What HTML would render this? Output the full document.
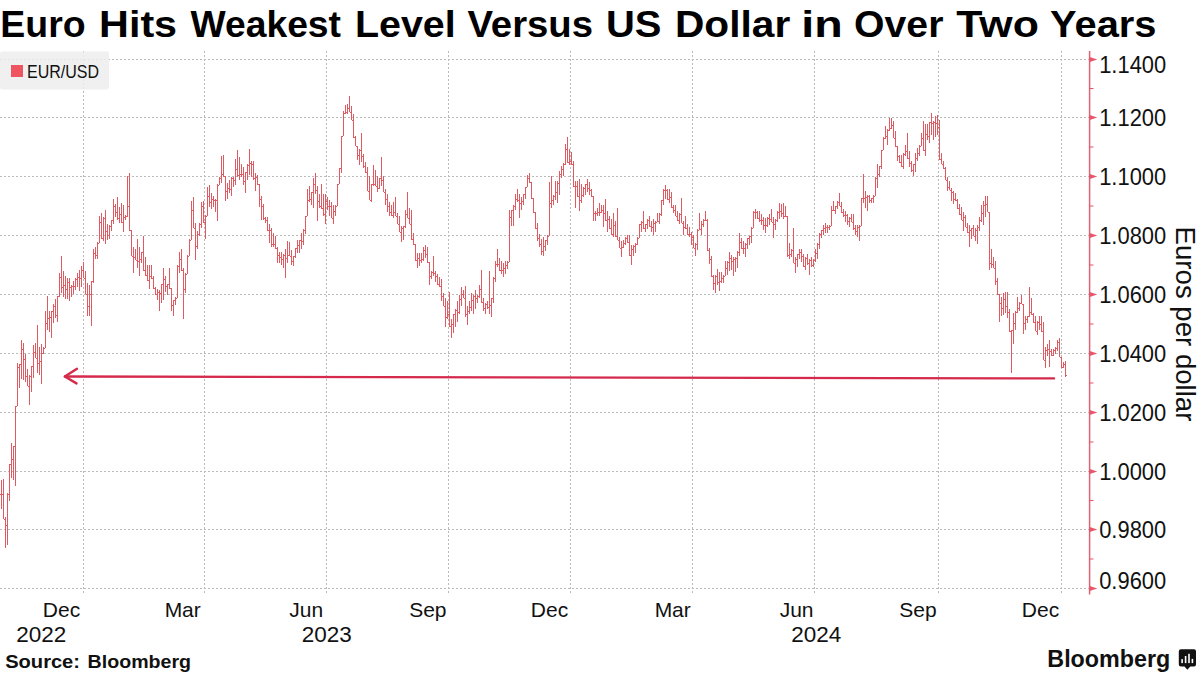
<!DOCTYPE html><html><head><meta charset="utf-8"><style>html,body{margin:0;padding:0;background:#fff;}svg{display:block;}text{font-family:"Liberation Sans",sans-serif;}</style></head><body>
<svg width="1200" height="675" viewBox="0 0 1200 675">
<rect width="1200" height="675" fill="#fff"/>
<g font-weight="bold" font-size="37" fill="#000">
<text x="0.3" y="37" textLength="85.3" lengthAdjust="spacingAndGlyphs">Euro</text>
<text x="99.1" y="37" textLength="78.0" lengthAdjust="spacingAndGlyphs">Hits</text>
<text x="190.5" y="37" textLength="150.5" lengthAdjust="spacingAndGlyphs">Weakest</text>
<text x="354.9" y="37" textLength="100.8" lengthAdjust="spacingAndGlyphs">Level</text>
<text x="467.4" y="37" textLength="125.7" lengthAdjust="spacingAndGlyphs">Versus</text>
<text x="606.0" y="37" textLength="55.5" lengthAdjust="spacingAndGlyphs">US</text>
<text x="675.0" y="37" textLength="115.2" lengthAdjust="spacingAndGlyphs">Dollar</text>
<text x="801.3" y="37" textLength="41.4" lengthAdjust="spacingAndGlyphs">in</text>
<text x="854.1" y="37" textLength="89.3" lengthAdjust="spacingAndGlyphs">Over</text>
<text x="956.3" y="37" textLength="82.6" lengthAdjust="spacingAndGlyphs">Two</text>
<text x="1050.1" y="37" textLength="106.4" lengthAdjust="spacingAndGlyphs">Years</text>
</g>
<g stroke="#bababa" stroke-width="1" stroke-dasharray="2 2" fill="none">
<line x1="0" y1="59.5" x2="1089" y2="59.5"/>
<line x1="0" y1="117.5" x2="1089" y2="117.5"/>
<line x1="0" y1="176.5" x2="1089" y2="176.5"/>
<line x1="0" y1="235.5" x2="1089" y2="235.5"/>
<line x1="0" y1="294.5" x2="1089" y2="294.5"/>
<line x1="0" y1="353.5" x2="1089" y2="353.5"/>
<line x1="0" y1="412.5" x2="1089" y2="412.5"/>
<line x1="0" y1="471.5" x2="1089" y2="471.5"/>
<line x1="0" y1="529.5" x2="1089" y2="529.5"/>
<line x1="0" y1="588.5" x2="1089" y2="588.5"/>
<line x1="83.5" y1="51" x2="83.5" y2="594"/>
<line x1="204.5" y1="51" x2="204.5" y2="594"/>
<line x1="326.5" y1="51" x2="326.5" y2="594"/>
<line x1="448.5" y1="51" x2="448.5" y2="594"/>
<line x1="570.5" y1="51" x2="570.5" y2="594"/>
<line x1="692.5" y1="51" x2="692.5" y2="594"/>
<line x1="814.5" y1="51" x2="814.5" y2="594"/>
<line x1="938.5" y1="51" x2="938.5" y2="594"/>
<line x1="1061.5" y1="51" x2="1061.5" y2="594"/>
</g>
<rect x="0" y="51.5" width="109" height="38" rx="2" fill="#ededed" fill-opacity="0.85"/>
<rect x="11" y="65" width="12" height="12" fill="#ef5461"/>
<text x="27" y="78" font-size="18.6" fill="#111" textLength="72" lengthAdjust="spacingAndGlyphs">EUR/USD</text>
<path d="M1.5 480V509M0 494.5h1M2 494.5h1M3.5 479V519M2 494.5h1M4 519.5h1M5.5 517V548M4 519.5h1M6 525.5h1M7.5 493V545M6 525.5h1M8 494.5h1M9.5 464V501M8 494.5h1M10 464.5h1M11.5 443V478M10 464.5h1M12 459.5h1M13.5 446V480M12 459.5h1M14 446.5h1M15.5 406V486M14 446.5h1M16 406.5h1M17.5 363V406M16 406.5h1M18 367.5h1M19.5 364V388M18 367.5h1M20 364.5h1M21.5 340V379M20 364.5h1M22 349.5h1M23.5 343V380M22 349.5h1M24 359.5h1M25.5 354V382M24 359.5h1M26 376.5h1M27.5 369V386M26 376.5h1M28 386.5h1M29.5 375V405M28 386.5h1M30 376.5h1M31.5 366V392M30 376.5h1M32 366.5h1M33.5 345V378M32 366.5h1M34 352.5h1M35.5 343V358M34 352.5h1M36 358.5h1M37.5 325V373M36 358.5h1M38 363.5h1M39.5 347V375M38 363.5h1M40 361.5h1M41.5 344V384M40 361.5h1M42 353.5h1M43.5 347V354M42 353.5h1M44 348.5h1M45.5 311V348M44 348.5h1M46 323.5h1M47.5 296V330M46 323.5h1M48 318.5h1M49.5 311V332M48 318.5h1M50 317.5h1M51.5 311V338M50 317.5h1M52 311.5h1M53.5 304V323M52 311.5h1M54 306.5h1M55.5 299V318M54 306.5h1M56 315.5h1M57.5 296V322M56 315.5h1M58 296.5h1M59.5 273V297M58 296.5h1M60 277.5h1M61.5 256V293M60 277.5h1M62 287.5h1M63.5 271V297M62 287.5h1M64 285.5h1M65.5 276V299M64 285.5h1M66 289.5h1M67.5 278V299M66 289.5h1M68 282.5h1M69.5 278V301M68 282.5h1M70 287.5h1M71.5 285V297M70 287.5h1M72 286.5h1M73.5 281V294M72 286.5h1M74 286.5h1M75.5 278V290M74 286.5h1M76 279.5h1M77.5 273V287M76 279.5h1M78 277.5h1M79.5 270V291M78 277.5h1M80 278.5h1M81.5 266V287M80 278.5h1M82 270.5h1M83.5 262V278M82 270.5h1M84 278.5h1M85.5 271V294M84 278.5h1M86 294.5h1M87.5 283V316M86 294.5h1M88 306.5h1M89.5 285V316M88 306.5h1M90 294.5h1M91.5 281V326M90 294.5h1M92 281.5h1M93.5 249V283M92 281.5h1M94 253.5h1M95.5 247V259M94 253.5h1M96 255.5h1M97.5 242V259M96 255.5h1M98 243.5h1M99.5 216V243M98 243.5h1M100 222.5h1M101.5 213V239M100 222.5h1M102 238.5h1M103.5 217V241M102 238.5h1M104 218.5h1M105.5 210V244M104 218.5h1M106 231.5h1M107.5 224V240M106 231.5h1M108 235.5h1M109.5 225V239M108 235.5h1M110 226.5h1M111.5 220V231M110 226.5h1M112 220.5h1M113.5 199V224M112 220.5h1M114 206.5h1M115.5 204V217M114 206.5h1M116 212.5h1M117.5 197V220M116 212.5h1M118 218.5h1M119.5 207V223M118 218.5h1M120 214.5h1M121.5 203V223M120 214.5h1M122 222.5h1M123.5 205V232M122 222.5h1M124 217.5h1M125.5 215V220M124 217.5h1M126 216.5h1M127.5 176V217M126 216.5h1M128 206.5h1M129.5 173V231M128 206.5h1M130 230.5h1M131.5 230V256M130 230.5h1M132 256.5h1M133.5 247V273M132 256.5h1M134 257.5h1M135.5 249V260M134 257.5h1M136 260.5h1M137.5 239V268M136 260.5h1M138 261.5h1M139.5 247V276M138 261.5h1M140 259.5h1M141.5 252V263M140 259.5h1M142 252.5h1M143.5 236V271M142 252.5h1M144 270.5h1M145.5 257V276M144 270.5h1M146 275.5h1M147.5 265V281M146 275.5h1M148 280.5h1M149.5 265V289M148 280.5h1M150 276.5h1M151.5 265V279M150 276.5h1M152 278.5h1M153.5 276V289M152 278.5h1M154 288.5h1M155.5 287V295M154 288.5h1M156 294.5h1M157.5 289V300M156 294.5h1M158 292.5h1M159.5 290V311M158 292.5h1M160 293.5h1M161.5 284V303M160 293.5h1M162 284.5h1M163.5 268V300M162 284.5h1M164 279.5h1M165.5 276V292M164 279.5h1M166 286.5h1M167.5 284V295M166 286.5h1M168 284.5h1M169.5 268V289M168 284.5h1M170 288.5h1M171.5 288V311M170 288.5h1M172 305.5h1M173.5 300V316M172 305.5h1M174 300.5h1M175.5 297V305M174 300.5h1M176 298.5h1M177.5 265V298M176 298.5h1M178 266.5h1M179.5 252V273M178 266.5h1M180 259.5h1M181.5 249V271M180 259.5h1M182 270.5h1M183.5 268V319M182 270.5h1M184 289.5h1M185.5 273V293M184 289.5h1M186 274.5h1M187.5 255V274M186 274.5h1M188 256.5h1M189.5 239V256M188 256.5h1M190 240.5h1M191.5 201V240M190 240.5h1M192 210.5h1M193.5 197V228M192 210.5h1M194 228.5h1M195.5 223V260M194 228.5h1M196 246.5h1M197.5 231V249M196 246.5h1M198 234.5h1M199.5 223V236M198 234.5h1M200 224.5h1M201.5 202V228M200 224.5h1M202 206.5h1M203.5 201V223M202 206.5h1M204 222.5h1M205.5 215V239M204 222.5h1M206 216.5h1M207.5 187V216M206 216.5h1M208 196.5h1M209.5 185V207M208 196.5h1M210 202.5h1M211.5 193V209M210 202.5h1M212 199.5h1M213.5 196V207M212 199.5h1M214 200.5h1M215.5 199V212M214 200.5h1M216 200.5h1M217.5 184V221M216 200.5h1M218 185.5h1M219.5 177V185M218 185.5h1M220 178.5h1M221.5 156V183M220 178.5h1M222 174.5h1M223.5 155V177M222 174.5h1M224 176.5h1M225.5 176V201M224 176.5h1M226 191.5h1M227.5 183V199M226 191.5h1M228 188.5h1M229.5 180V193M228 188.5h1M230 189.5h1M231.5 177V196M230 189.5h1M232 178.5h1M233.5 177V187M232 178.5h1M234 180.5h1M235.5 159V185M234 180.5h1M236 169.5h1M237.5 150V177M236 169.5h1M238 175.5h1M239.5 157V180M238 175.5h1M240 174.5h1M241.5 164V177M240 174.5h1M242 174.5h1M243.5 167V185M242 174.5h1M244 181.5h1M245.5 172V193M244 181.5h1M246 172.5h1M247.5 164V180M246 172.5h1M248 165.5h1M249.5 149V175M248 165.5h1M250 163.5h1M251.5 161V177M250 163.5h1M252 164.5h1M253.5 161V180M252 164.5h1M254 178.5h1M255.5 173V191M254 178.5h1M256 177.5h1M257.5 175V185M256 177.5h1M258 184.5h1M259.5 184V207M258 184.5h1M260 199.5h1M261.5 196V220M260 199.5h1M262 206.5h1M263.5 204V220M262 206.5h1M264 218.5h1M265.5 217V223M264 218.5h1M266 220.5h1M267.5 217V231M266 220.5h1M268 230.5h1M269.5 224V243M268 230.5h1M270 230.5h1M271.5 228V247M270 230.5h1M272 244.5h1M273.5 233V247M272 244.5h1M274 244.5h1M275.5 236V249M274 244.5h1M276 248.5h1M277.5 247V263M276 248.5h1M278 255.5h1M279.5 252V263M278 255.5h1M280 257.5h1M281.5 252V265M280 257.5h1M282 259.5h1M283.5 254V268M282 259.5h1M284 255.5h1M285.5 249V278M284 255.5h1M286 258.5h1M287.5 241V263M286 258.5h1M288 255.5h1M289.5 242V256M288 255.5h1M290 256.5h1M291.5 250V265M290 256.5h1M292 261.5h1M293.5 256V266M292 261.5h1M294 256.5h1M295.5 248V258M294 256.5h1M296 248.5h1M297.5 240V253M296 248.5h1M298 245.5h1M299.5 240V253M298 245.5h1M300 240.5h1M301.5 233V249M300 240.5h1M302 241.5h1M303.5 229V245M302 241.5h1M304 230.5h1M305.5 216V234M304 230.5h1M306 216.5h1M307.5 189V216M306 216.5h1M308 200.5h1M309.5 186V202M308 200.5h1M310 199.5h1M311.5 192V205M310 199.5h1M312 192.5h1M313.5 178V208M312 192.5h1M314 184.5h1M315.5 173V194M314 184.5h1M316 190.5h1M317.5 186V221M316 190.5h1M318 201.5h1M319.5 194V208M318 201.5h1M320 206.5h1M321.5 184V209M320 206.5h1M322 208.5h1M323.5 194V216M322 208.5h1M324 214.5h1M325.5 194V224M324 214.5h1M326 201.5h1M327.5 197V210M326 201.5h1M328 206.5h1M329.5 200V216M328 206.5h1M330 206.5h1M331.5 202V218M330 206.5h1M332 218.5h1M333.5 205V224M332 218.5h1M334 211.5h1M335.5 205V216M334 211.5h1M336 206.5h1M337.5 184V206M336 206.5h1M338 184.5h1M339.5 168V184M338 184.5h1M340 168.5h1M341.5 136V173M340 168.5h1M342 136.5h1M343.5 111V136M342 136.5h1M344 113.5h1M345.5 105V114M344 113.5h1M346 112.5h1M347.5 104V114M346 112.5h1M348 108.5h1M349.5 96V112M348 108.5h1M350 112.5h1M351.5 106V120M350 112.5h1M352 120.5h1M353.5 114V138M352 120.5h1M354 137.5h1M355.5 136V146M354 137.5h1M356 146.5h1M357.5 146V160M356 146.5h1M358 155.5h1M359.5 149V165M358 155.5h1M360 150.5h1M361.5 133V162M360 150.5h1M362 156.5h1M363.5 154V168M362 156.5h1M364 166.5h1M365.5 162V173M364 166.5h1M366 172.5h1M367.5 167V191M366 172.5h1M368 191.5h1M369.5 176V200M368 191.5h1M370 200.5h1M371.5 184V202M370 200.5h1M372 184.5h1M373.5 165V186M372 184.5h1M374 184.5h1M375.5 170V186M374 184.5h1M376 186.5h1M377.5 176V192M376 186.5h1M378 188.5h1M379.5 178V189M378 188.5h1M380 178.5h1M381.5 157V186M380 178.5h1M382 180.5h1M383.5 176V192M382 180.5h1M384 192.5h1M385.5 189V205M384 192.5h1M386 199.5h1M387.5 194V212M386 199.5h1M388 206.5h1M389.5 202V216M388 206.5h1M390 212.5h1M391.5 205V216M390 212.5h1M392 215.5h1M393.5 202V218M392 215.5h1M394 212.5h1M395.5 197V216M394 212.5h1M396 216.5h1M397.5 213V224M396 216.5h1M398 224.5h1M399.5 216V232M398 224.5h1M400 232.5h1M401.5 226V242M400 232.5h1M402 228.5h1M403.5 226V240M402 228.5h1M404 226.5h1M405.5 210V228M404 226.5h1M406 214.5h1M407.5 192V218M406 214.5h1M408 218.5h1M409.5 208V224M408 218.5h1M410 224.5h1M411.5 210V240M410 224.5h1M412 239.5h1M413.5 233V245M412 239.5h1M414 244.5h1M415.5 244V261M414 244.5h1M416 260.5h1M417.5 253V268M416 260.5h1M418 258.5h1M419.5 253V266M418 258.5h1M420 260.5h1M421.5 253V263M420 260.5h1M422 259.5h1M423.5 247V261M422 259.5h1M424 250.5h1M425.5 245V258M424 250.5h1M426 254.5h1M427.5 247V263M426 254.5h1M428 262.5h1M429.5 262V285M428 262.5h1M430 276.5h1M431.5 271V279M430 276.5h1M432 272.5h1M433.5 256V276M432 272.5h1M434 273.5h1M435.5 271V282M434 273.5h1M436 276.5h1M437.5 274V285M436 276.5h1M438 284.5h1M439.5 277V287M438 284.5h1M440 286.5h1M441.5 279V301M440 286.5h1M442 296.5h1M443.5 293V306M442 296.5h1M444 306.5h1M445.5 298V327M444 306.5h1M446 317.5h1M447.5 301V319M446 317.5h1M448 314.5h1M449.5 292V327M448 314.5h1M450 326.5h1M451.5 319V338M450 326.5h1M452 324.5h1M453.5 314V333M452 324.5h1M454 314.5h1M455.5 309V327M454 314.5h1M456 310.5h1M457.5 301V322M456 310.5h1M458 312.5h1M459.5 295V314M458 312.5h1M460 299.5h1M461.5 287V306M460 299.5h1M462 294.5h1M463.5 290V298M462 294.5h1M464 298.5h1M465.5 286V317M464 298.5h1M466 314.5h1M467.5 306V325M466 314.5h1M468 311.5h1M469.5 301V314M468 311.5h1M470 307.5h1M471.5 293V311M470 307.5h1M472 300.5h1M473.5 295V314M472 300.5h1M474 296.5h1M475.5 290V309M474 296.5h1M476 298.5h1M477.5 295V303M476 298.5h1M478 296.5h1M479.5 285V298M478 296.5h1M480 289.5h1M481.5 270V303M480 289.5h1M482 302.5h1M483.5 298V311M482 302.5h1M484 308.5h1M485.5 303V314M484 308.5h1M486 304.5h1M487.5 301V309M486 304.5h1M488 307.5h1M489.5 271V314M488 307.5h1M490 305.5h1M491.5 298V317M490 305.5h1M492 298.5h1M493.5 277V303M492 298.5h1M494 278.5h1M495.5 261V282M494 278.5h1M496 264.5h1M497.5 249V267M496 264.5h1M498 264.5h1M499.5 258V271M498 264.5h1M500 270.5h1M501.5 261V274M500 270.5h1M502 270.5h1M503.5 263V277M502 270.5h1M504 268.5h1M505.5 261V274M504 268.5h1M506 265.5h1M507.5 261V269M506 265.5h1M508 262.5h1M509.5 210V262M508 262.5h1M510 217.5h1M511.5 210V226M510 217.5h1M512 210.5h1M513.5 205V226M512 210.5h1M514 206.5h1M515.5 194V210M514 206.5h1M516 199.5h1M517.5 189V202M516 199.5h1M518 200.5h1M519.5 194V218M518 200.5h1M520 203.5h1M521.5 197V210M520 203.5h1M522 201.5h1M523.5 194V205M522 201.5h1M524 194.5h1M525.5 187V199M524 194.5h1M526 187.5h1M527.5 175V187M526 187.5h1M528 178.5h1M529.5 173V183M528 178.5h1M530 182.5h1M531.5 182V199M530 182.5h1M532 198.5h1M533.5 198V213M532 198.5h1M534 212.5h1M535.5 212V229M534 212.5h1M536 228.5h1M537.5 223V241M536 228.5h1M538 238.5h1M539.5 234V247M538 238.5h1M540 244.5h1M541.5 239V255M540 244.5h1M542 251.5h1M543.5 237V256M542 251.5h1M544 246.5h1M545.5 240V251M544 246.5h1M546 240.5h1M547.5 235V245M546 240.5h1M548 236.5h1M549.5 182V236M548 236.5h1M550 203.5h1M551.5 176V208M550 203.5h1M552 200.5h1M553.5 195V205M552 200.5h1M554 196.5h1M555.5 181V200M554 196.5h1M556 192.5h1M557.5 181V203M556 192.5h1M558 183.5h1M559.5 171V195M558 183.5h1M560 174.5h1M561.5 166V178M560 174.5h1M562 169.5h1M563.5 163V176M562 169.5h1M564 164.5h1M565.5 144V165M564 164.5h1M566 149.5h1M567.5 137V163M566 149.5h1M568 162.5h1M569.5 149V165M568 162.5h1M570 161.5h1M571.5 152V165M570 161.5h1M572 164.5h1M573.5 161V187M572 164.5h1M574 186.5h1M575.5 181V208M574 186.5h1M576 186.5h1M577.5 181V197M576 186.5h1M578 196.5h1M579.5 179V211M578 196.5h1M580 200.5h1M581.5 184V203M580 200.5h1M582 195.5h1M583.5 187V197M582 195.5h1M584 188.5h1M585.5 184V195M584 188.5h1M586 184.5h1M587.5 179V192M586 184.5h1M588 188.5h1M589.5 182V195M588 188.5h1M590 190.5h1M591.5 189V197M590 190.5h1M592 196.5h1M593.5 196V221M592 196.5h1M594 213.5h1M595.5 211V221M594 213.5h1M596 213.5h1M597.5 208V216M596 213.5h1M598 212.5h1M599.5 203V216M598 212.5h1M600 212.5h1M601.5 205V213M600 212.5h1M602 210.5h1M603.5 205V227M602 210.5h1M604 213.5h1M605.5 199V221M604 213.5h1M606 220.5h1M607.5 211V232M606 220.5h1M608 219.5h1M609.5 216V229M608 219.5h1M610 228.5h1M611.5 219V235M610 228.5h1M612 234.5h1M613.5 213V237M612 234.5h1M614 225.5h1M615.5 221V237M614 225.5h1M616 236.5h1M617.5 208V240M616 236.5h1M618 240.5h1M619.5 237V248M618 240.5h1M620 248.5h1M621.5 241V257M620 248.5h1M622 247.5h1M623.5 240V248M622 247.5h1M624 243.5h1M625.5 237V245M624 243.5h1M626 238.5h1M627.5 235V243M626 238.5h1M628 242.5h1M629.5 235V256M628 242.5h1M630 255.5h1M631.5 245V265M630 255.5h1M632 249.5h1M633.5 245V256M632 249.5h1M634 246.5h1M635.5 243V253M634 246.5h1M636 244.5h1M637.5 237V245M636 244.5h1M638 238.5h1M639.5 224V238M638 238.5h1M640 224.5h1M641.5 221V232M640 224.5h1M642 222.5h1M643.5 211V229M642 222.5h1M644 228.5h1M645.5 224V232M644 228.5h1M646 224.5h1M647.5 219V229M646 224.5h1M648 220.5h1M649.5 216V227M648 220.5h1M650 226.5h1M651.5 221V232M650 226.5h1M652 227.5h1M653.5 219V235M652 227.5h1M654 223.5h1M655.5 221V232M654 223.5h1M656 222.5h1M657.5 213V222M656 222.5h1M658 221.5h1M659.5 213V224M658 221.5h1M660 214.5h1M661.5 200V216M660 214.5h1M662 200.5h1M663.5 189V205M662 200.5h1M664 190.5h1M665.5 185V199M664 190.5h1M666 190.5h1M667.5 189V200M666 190.5h1M668 199.5h1M669.5 189V203M668 199.5h1M670 197.5h1M671.5 192V208M670 197.5h1M672 207.5h1M673.5 205V213M672 207.5h1M674 210.5h1M675.5 205V216M674 210.5h1M676 216.5h1M677.5 211V221M676 216.5h1M678 220.5h1M679.5 213V224M678 220.5h1M680 214.5h1M681.5 198V223M680 214.5h1M682 223.5h1M683.5 221V235M682 223.5h1M684 227.5h1M685.5 216V229M684 227.5h1M686 228.5h1M687.5 224V235M686 228.5h1M688 234.5h1M689.5 227V237M688 234.5h1M690 234.5h1M691.5 232V245M690 234.5h1M692 237.5h1M693.5 235V248M692 237.5h1M694 248.5h1M695.5 243V256M694 248.5h1M696 244.5h1M697.5 229V250M696 244.5h1M698 230.5h1M699.5 213V230M698 230.5h1M700 229.5h1M701.5 221V235M700 229.5h1M702 224.5h1M703.5 219V227M702 224.5h1M704 220.5h1M705.5 211V221M704 220.5h1M706 220.5h1M707.5 219V251M706 220.5h1M708 250.5h1M709.5 248V264M708 250.5h1M710 259.5h1M711.5 256V277M710 259.5h1M712 276.5h1M713.5 275V290M712 276.5h1M714 283.5h1M715.5 275V293M714 283.5h1M716 276.5h1M717.5 269V285M716 276.5h1M718 282.5h1M719.5 272V291M718 282.5h1M720 281.5h1M721.5 272V283M720 281.5h1M722 278.5h1M723.5 275V283M722 278.5h1M724 276.5h1M725.5 261V276M724 276.5h1M726 268.5h1M727.5 261V275M726 268.5h1M728 262.5h1M729.5 252V271M728 262.5h1M730 258.5h1M731.5 255V270M730 258.5h1M732 261.5h1M733.5 257V276M732 261.5h1M734 259.5h1M735.5 257V272M734 259.5h1M736 258.5h1M737.5 251V268M736 258.5h1M738 252.5h1M739.5 233V256M738 252.5h1M740 242.5h1M741.5 238V249M740 242.5h1M742 248.5h1M743.5 241V254M742 248.5h1M744 248.5h1M745.5 243V257M744 248.5h1M746 244.5h1M747.5 238V249M746 244.5h1M748 238.5h1M749.5 236V245M748 238.5h1M750 236.5h1M751.5 227V243M750 236.5h1M752 228.5h1M753.5 211V228M752 228.5h1M754 212.5h1M755.5 209V219M754 212.5h1M756 212.5h1M757.5 211V219M756 212.5h1M758 218.5h1M759.5 211V222M758 218.5h1M760 220.5h1M761.5 214V225M760 220.5h1M762 220.5h1M763.5 217V230M762 220.5h1M764 225.5h1M765.5 218V233M764 225.5h1M766 225.5h1M767.5 217V227M766 225.5h1M768 218.5h1M769.5 214V225M768 218.5h1M770 219.5h1M771.5 209V222M770 219.5h1M772 222.5h1M773.5 217V238M772 222.5h1M774 224.5h1M775.5 219V230M774 224.5h1M776 220.5h1M777.5 211V222M776 220.5h1M778 212.5h1M779.5 203V219M778 212.5h1M780 211.5h1M781.5 204V217M780 211.5h1M782 213.5h1M783.5 203V219M782 213.5h1M784 216.5h1M785.5 206V217M784 216.5h1M786 216.5h1M787.5 216V257M786 216.5h1M788 255.5h1M789.5 243V259M788 255.5h1M790 254.5h1M791.5 249V257M790 254.5h1M792 250.5h1M793.5 228V263M792 250.5h1M794 263.5h1M795.5 257V273M794 263.5h1M796 259.5h1M797.5 254V267M796 259.5h1M798 254.5h1M799.5 249V259M798 254.5h1M800 252.5h1M801.5 249V262M800 252.5h1M802 256.5h1M803.5 254V267M802 256.5h1M804 266.5h1M805.5 257V270M804 266.5h1M806 258.5h1M807.5 254V265M806 258.5h1M808 263.5h1M809.5 259V275M808 263.5h1M810 260.5h1M811.5 257V267M810 260.5h1M812 265.5h1M813.5 259V267M812 265.5h1M814 260.5h1M815.5 249V262M814 260.5h1M816 253.5h1M817.5 243V259M816 253.5h1M818 244.5h1M819.5 233V249M818 244.5h1M820 234.5h1M821.5 230V238M820 234.5h1M822 230.5h1M823.5 225V235M822 230.5h1M824 228.5h1M825.5 223V233M824 228.5h1M826 227.5h1M827.5 225V233M826 227.5h1M828 227.5h1M829.5 225V230M828 227.5h1M830 226.5h1M831.5 206V226M830 226.5h1M832 210.5h1M833.5 201V211M832 210.5h1M834 210.5h1M835.5 206V214M834 210.5h1M836 206.5h1M837.5 201V209M836 206.5h1M838 202.5h1M839.5 193V206M838 202.5h1M840 206.5h1M841.5 202V213M840 206.5h1M842 212.5h1M843.5 209V217M842 212.5h1M844 215.5h1M845.5 211V222M844 215.5h1M846 215.5h1M847.5 214V225M846 215.5h1M848 221.5h1M849.5 217V227M848 221.5h1M850 218.5h1M851.5 214V222M850 218.5h1M852 222.5h1M853.5 214V230M852 222.5h1M854 228.5h1M855.5 225V235M854 228.5h1M856 231.5h1M857.5 225V237M856 231.5h1M858 227.5h1M859.5 225V241M858 227.5h1M860 226.5h1M861.5 198V226M860 226.5h1M862 198.5h1M863.5 174V203M862 198.5h1M864 198.5h1M865.5 191V208M864 198.5h1M866 197.5h1M867.5 195V211M866 197.5h1M868 196.5h1M869.5 195V203M868 196.5h1M870 200.5h1M871.5 198V203M870 200.5h1M872 198.5h1M873.5 195V203M872 198.5h1M874 196.5h1M875.5 177V196M874 196.5h1M876 178.5h1M877.5 164V188M876 178.5h1M878 174.5h1M879.5 166V177M878 174.5h1M880 166.5h1M881.5 150V169M880 166.5h1M882 150.5h1M883.5 137V150M882 150.5h1M884 138.5h1M885.5 126V139M884 138.5h1M886 136.5h1M887.5 129V145M886 136.5h1M888 130.5h1M889.5 118V131M888 130.5h1M890 128.5h1M891.5 118V129M890 128.5h1M892 125.5h1M893.5 121V138M892 125.5h1M894 138.5h1M895.5 131V147M894 138.5h1M896 146.5h1M897.5 146V161M896 146.5h1M898 156.5h1M899.5 155V163M898 156.5h1M900 162.5h1M901.5 155V167M900 162.5h1M902 166.5h1M903.5 153V169M902 166.5h1M904 154.5h1M905.5 145V156M904 154.5h1M906 151.5h1M907.5 133V159M906 151.5h1M908 158.5h1M909.5 151V167M908 158.5h1M910 163.5h1M911.5 161V172M910 163.5h1M912 170.5h1M913.5 164V176M912 170.5h1M914 164.5h1M915.5 153V172M914 164.5h1M916 158.5h1M917.5 148V161M916 158.5h1M918 153.5h1M919.5 145V156M918 153.5h1M920 146.5h1M921.5 133V146M920 146.5h1M922 138.5h1M923.5 121V151M922 138.5h1M924 150.5h1M925.5 124V156M924 150.5h1M926 134.5h1M927.5 124V140M926 134.5h1M928 136.5h1M929.5 122V143M928 136.5h1M930 122.5h1M931.5 113V135M930 122.5h1M932 123.5h1M933.5 121V140M932 123.5h1M934 122.5h1M935.5 116V137M934 122.5h1M936 123.5h1M937.5 115V135M936 123.5h1M938 127.5h1M939.5 120V160M938 127.5h1M940 159.5h1M941.5 153V164M940 159.5h1M942 164.5h1M943.5 161V169M942 164.5h1M944 168.5h1M945.5 167V180M944 168.5h1M946 180.5h1M947.5 177V191M946 180.5h1M948 187.5h1M949.5 181V190M948 187.5h1M950 190.5h1M951.5 188V201M950 190.5h1M952 192.5h1M953.5 191V204M952 192.5h1M954 199.5h1M955.5 193V201M954 199.5h1M956 200.5h1M957.5 199V209M956 200.5h1M958 208.5h1M959.5 204V215M958 208.5h1M960 214.5h1M961.5 207V220M960 214.5h1M962 220.5h1M963.5 212V231M962 220.5h1M964 217.5h1M965.5 215V227M964 217.5h1M966 227.5h1M967.5 223V233M966 227.5h1M968 232.5h1M969.5 225V247M968 232.5h1M970 230.5h1M971.5 228V239M970 230.5h1M972 228.5h1M973.5 225V236M972 228.5h1M974 236.5h1M975.5 228V241M974 236.5h1M976 230.5h1M977.5 225V244M976 230.5h1M978 227.5h1M979.5 217V231M978 227.5h1M980 220.5h1M981.5 205V222M980 220.5h1M982 213.5h1M983.5 201V225M982 213.5h1M984 205.5h1M985.5 196V217M984 205.5h1M986 204.5h1M987.5 196V212M986 204.5h1M988 212.5h1M989.5 212V270M988 212.5h1M990 263.5h1M991.5 249V268M990 263.5h1M992 264.5h1M993.5 257V268M992 264.5h1M994 268.5h1M995.5 261V285M994 268.5h1M996 281.5h1M997.5 278V295M996 281.5h1M998 294.5h1M999.5 294V322M998 294.5h1M1000 303.5h1M1001.5 297V316M1000 303.5h1M1002 308.5h1M1003.5 293V315M1002 308.5h1M1004 299.5h1M1005.5 292V313M1004 299.5h1M1006 306.5h1M1007.5 292V318M1006 306.5h1M1008 312.5h1M1009.5 309V332M1008 312.5h1M1010 331.5h1M1011.5 330V373M1010 331.5h1M1012 330.5h1M1013.5 313V344M1012 330.5h1M1014 323.5h1M1015.5 311V330M1014 323.5h1M1016 312.5h1M1017.5 297V313M1016 312.5h1M1018 308.5h1M1019.5 302V311M1018 308.5h1M1020 303.5h1M1021.5 295V304M1020 303.5h1M1022 304.5h1M1023.5 304V334M1022 304.5h1M1024 323.5h1M1025.5 316V330M1024 323.5h1M1026 319.5h1M1027.5 316V323M1026 319.5h1M1028 316.5h1M1029.5 287V317M1028 316.5h1M1030 312.5h1M1031.5 298V315M1030 312.5h1M1032 314.5h1M1033.5 313V323M1032 314.5h1M1034 322.5h1M1035.5 316V331M1034 322.5h1M1036 331.5h1M1037.5 321V335M1036 331.5h1M1038 322.5h1M1039.5 316V330M1038 322.5h1M1040 324.5h1M1041.5 316V332M1040 324.5h1M1042 331.5h1M1043.5 322V360M1042 331.5h1M1044 360.5h1M1045.5 347V368M1044 360.5h1M1046 350.5h1M1047.5 344V356M1046 350.5h1M1048 349.5h1M1049.5 340V367M1048 349.5h1M1050 351.5h1M1051.5 349V356M1050 351.5h1M1052 355.5h1M1053.5 349V356M1052 355.5h1M1054 350.5h1M1055.5 347V354M1054 350.5h1M1056 348.5h1M1057.5 340V351M1056 348.5h1M1058 342.5h1M1059.5 338V357M1058 342.5h1M1060 357.5h1M1061.5 357V368M1060 357.5h1M1062 367.5h1M1063.5 362V368M1062 367.5h1M1064 364.5h1M1065.5 361V377M1064 364.5h1M1066 375.5h1" stroke="#e05a62" stroke-width="1" fill="none" shape-rendering="crispEdges"/>
<g stroke="#d52a4c" stroke-width="2.4" fill="none" stroke-linecap="round" stroke-linejoin="round">
<path d="M1054 378.4L65 376.5"/><path d="M77 368.8L64.8 376.5L76.5 383.4"/>
</g>
<line x1="1089.6" y1="51" x2="1089.6" y2="594.5" stroke="#dc6474" stroke-width="1.5"/>
<g fill="#e8566c">
<path d="M1089 56.8L1097.3 59.5L1089 62.2Z"/>
<path d="M1089 114.8L1097.3 117.5L1089 120.2Z"/>
<path d="M1089 173.8L1097.3 176.5L1089 179.2Z"/>
<path d="M1089 232.8L1097.3 235.5L1089 238.2Z"/>
<path d="M1089 291.8L1097.3 294.5L1089 297.2Z"/>
<path d="M1089 350.8L1097.3 353.5L1089 356.2Z"/>
<path d="M1089 409.8L1097.3 412.5L1089 415.2Z"/>
<path d="M1089 468.8L1097.3 471.5L1089 474.2Z"/>
<path d="M1089 526.8L1097.3 529.5L1089 532.2Z"/>
<path d="M1089 585.8L1097.3 588.5L1089 591.2Z"/>
</g>
<g stroke="#e0566a" stroke-width="1">
<line x1="1089" y1="88.5" x2="1093.5" y2="88.5"/>
<line x1="1089" y1="147.0" x2="1093.5" y2="147.0"/>
<line x1="1089" y1="206.0" x2="1093.5" y2="206.0"/>
<line x1="1089" y1="265.0" x2="1093.5" y2="265.0"/>
<line x1="1089" y1="324.0" x2="1093.5" y2="324.0"/>
<line x1="1089" y1="383.0" x2="1093.5" y2="383.0"/>
<line x1="1089" y1="442.0" x2="1093.5" y2="442.0"/>
<line x1="1089" y1="500.5" x2="1093.5" y2="500.5"/>
<line x1="1089" y1="559.0" x2="1093.5" y2="559.0"/>
</g>
<g font-size="23" fill="#111">
<text x="1099.2" y="72.8" textLength="67" lengthAdjust="spacingAndGlyphs">1.1400</text>
<text x="1099.2" y="126.2" textLength="67" lengthAdjust="spacingAndGlyphs">1.1200</text>
<text x="1099.2" y="185.2" textLength="67" lengthAdjust="spacingAndGlyphs">1.1000</text>
<text x="1099.2" y="244.2" textLength="67" lengthAdjust="spacingAndGlyphs">1.0800</text>
<text x="1099.2" y="303.2" textLength="67" lengthAdjust="spacingAndGlyphs">1.0600</text>
<text x="1099.2" y="362.2" textLength="67" lengthAdjust="spacingAndGlyphs">1.0400</text>
<text x="1099.2" y="421.2" textLength="67" lengthAdjust="spacingAndGlyphs">1.0200</text>
<text x="1099.2" y="480.2" textLength="67" lengthAdjust="spacingAndGlyphs">1.0000</text>
<text x="1099.2" y="538.2" textLength="67" lengthAdjust="spacingAndGlyphs">0.9800</text>
<text x="1099.2" y="588.9" textLength="67" lengthAdjust="spacingAndGlyphs">0.9600</text>
</g>
<text transform="translate(1175.6,226.6) rotate(90)" font-size="27.6" fill="#111">Euros per dollar</text>
<g font-size="21" fill="#111" text-anchor="end">
<text x="80.2" y="616.5">Dec</text>
<text x="200.8" y="616.5">Mar</text>
<text x="323.1" y="616.5">Jun</text>
<text x="446.5" y="616.5">Sep</text>
<text x="568.2" y="616.5">Dec</text>
<text x="690.8" y="616.5">Mar</text>
<text x="813.5" y="616.5">Jun</text>
<text x="936.6" y="616.5">Sep</text>
<text x="1059.2" y="616.5">Dec</text>
</g>
<g font-size="22.5" fill="#111">
<text x="16.3" y="641.8">2022</text>
<text x="301.7" y="641.8">2023</text>
<text x="791.2" y="641.8">2024</text>
</g>
<g font-size="17.5" font-weight="bold" fill="#111"><text x="5.2" y="668" textLength="74.8" lengthAdjust="spacingAndGlyphs">Source:</text><text x="87.6" y="668" textLength="103.5" lengthAdjust="spacingAndGlyphs">Bloomberg</text></g>
<text x="1047.3" y="666.7" font-size="24" font-weight="bold" fill="#111" textLength="123" lengthAdjust="spacingAndGlyphs">Bloomberg</text>
<path d="M1181 649.2H1194Q1196 649.2 1196 651.2V664.6Q1196 666.6 1194 666.6H1190.3L1187.4 669.7L1184.5 666.6H1181Q1178.8 666.6 1178.8 664.6V651.2Q1178.8 649.2 1181 649.2Z" fill="#111"/>
<g fill="#fff"><rect x="1181.3" y="659.1" width="1.6" height="4"/><rect x="1184.8" y="656" width="1.6" height="7.1"/><rect x="1188.2" y="653.8" width="1.6" height="9.3"/><rect x="1191.6" y="658.9" width="1.6" height="4.2"/></g>
</svg></body></html>
